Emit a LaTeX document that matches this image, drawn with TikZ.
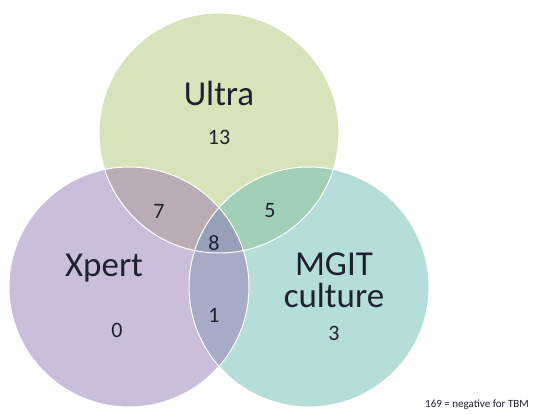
\documentclass[tikz,border=0pt]{standalone}
\usepackage{fontspec}
\setmainfont{Carlito}
\definecolor{ucol}{HTML}{D7E3BB}
\definecolor{xcol}{HTML}{CBBEDB}
\definecolor{mcol}{HTML}{B5DDDA}
\definecolor{uxcol}{HTML}{B9ACB5}
\definecolor{umcol}{HTML}{A2D0B6}
\definecolor{xmcol}{HTML}{A7ABC8}
\definecolor{uxmcol}{HTML}{96A0B6}
\definecolor{txt}{HTML}{1E2230}
\begin{document}
\begin{tikzpicture}[x=1pt,y=-1pt,
  big/.style={text=txt,font=\fontsize{35}{37}\selectfont,align=center},
  num/.style={text=txt,font=\fontsize{22}{24}\selectfont},
  note/.style={text=txt,font=\fontsize{11}{13}\selectfont},
  ring/.style={draw=white,line width=1pt}]
\useasboundingbox (0,0) rectangle (533,414);
\fill[white] (0,0) rectangle (533,414);
\coordinate (cU) at (219,133);
\coordinate (cX) at (129,287);
\coordinate (cM) at (309,287);
\def\R{120}
\fill[ucol] (cU) circle (\R);
\fill[xcol] (cX) circle (\R);
\fill[mcol] (cM) circle (\R);
\begin{scope}
  \clip (cU) circle (\R);
  \fill[uxcol] (cX) circle (\R);
  \fill[umcol] (cM) circle (\R);
  \clip (cX) circle (\R);
  \fill[uxmcol] (cM) circle (\R);
\end{scope}
\begin{scope}
  \clip (cX) circle (\R);
  \begin{scope}[even odd rule]
    \clip (cU) circle (\R) (-10,-10) rectangle (600,500);
    \fill[xmcol] (cM) circle (\R);
  \end{scope}
\end{scope}
\draw[ring] (cU) circle (\R);
\draw[ring] (cX) circle (\R);
\draw[ring] (cM) circle (\R);
\node[big] (ultra) at (219,93) {Ultra};
\node[num] (n13) at (219,137) {13};
\node[num] (n7) at (159,211) {7};
\node[num] (n5) at (270,211) {5};
\node[num] (n8) at (214,243) {8};
\node[big] (xpert) at (104,268) {Xpert};
\node[big] (mgit) at (334,264) {MGIT};
\node[big] (culture) at (334,295) {culture};
\node[num] (n1) at (214,315) {1};
\node[num] (n0) at (117,330) {0};
\node[num] (n3) at (334,333) {3};
\node[note] (neg) at (477,405) {169 = negative for TBM};
\end{tikzpicture}
\end{document}
